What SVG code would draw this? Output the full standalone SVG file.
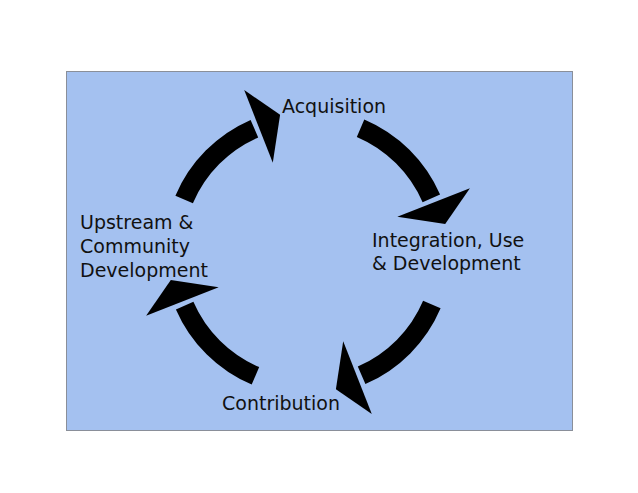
<svg xmlns="http://www.w3.org/2000/svg" width="638" height="493" viewBox="0 0 638 493">
<style>
.lbl{font-family:"DejaVu Sans","Liberation Sans",sans-serif;font-size:19px;fill:#111}
.arc{fill:#000}
</style>
<defs>
<g id="arrow">
<path class="arc" d="M 175.4 195.7 A 144 144 0 0 1 250.6 119.9 L 258.2 137.4 A 125 125 0 0 0 192.9 203.2 Z"/>
<path class="arc" d="M 244.2 90.1 L 280.1 114.8 L 272.8 162.7 Z"/>
</g>
</defs>
<rect width="638" height="493" fill="#fff"/>
<rect id="frame" x="66.5" y="71.5" width="506" height="359" fill="#a4c1f0" stroke="#8a8f99" stroke-width="1"/>
<g id="connectors">
<use href="#arrow"/>
<use href="#arrow" transform="rotate(90 308 252)"/>
<use href="#arrow" transform="rotate(180 308 252)"/>
<use href="#arrow" transform="rotate(270 308 252)"/>
</g>
<g id="acquisition"><text class="lbl" x="282" y="113">Acquisition</text></g>
<g id="integration"><text class="lbl" x="372" y="247">Integration, Use</text><text class="lbl" x="372" y="270">&amp; Development</text></g>
<g id="contribution"><text class="lbl" x="222" y="410">Contribution</text></g>
<g id="upstream"><text class="lbl" x="80" y="229">Upstream &amp;</text><text class="lbl" x="80" y="253">Community</text><text class="lbl" x="80" y="277">Development</text></g>
</svg>
